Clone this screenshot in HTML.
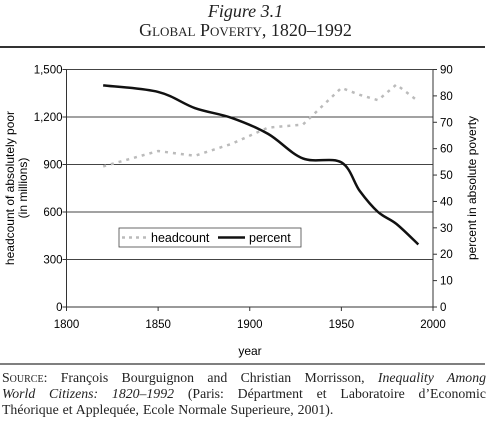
<!DOCTYPE html>
<html><head><meta charset="utf-8"><style>
body{margin:0;background:#fff;width:491px;height:425px;overflow:hidden;position:relative;font-family:"Liberation Serif",serif}
.t{position:absolute;left:0;width:491px;text-align:center;color:#222}
.src{position:absolute;left:2px;width:484px;font-size:13.8px;line-height:16px;color:#222;white-space:nowrap;word-spacing:0.5px}
.j{text-align:justify;text-align-last:justify}
.sc{font-variant:small-caps}
</style></head><body>
<div class="t" style="top:1px;font-size:18px;font-style:italic">Figure 3.1</div>
<div class="t" style="top:20px;font-size:18px;font-variant:small-caps">Global Poverty, 1820–1992</div>
<svg width="491" height="425" style="position:absolute;left:0;top:0" font-family="Liberation Sans, sans-serif" font-size="11.5">
<line x1="0" y1="47" x2="485" y2="47" stroke="#333" stroke-width="2"/>
<line x1="0" y1="364" x2="485" y2="364" stroke="#333" stroke-width="1.3"/>
<g id="grid"></g><g id="series"></g>
<text x="250" y="355" text-anchor="middle" font-size="12">year</text>
<text transform="translate(15,188) rotate(-90)" text-anchor="middle" font-size="12"><tspan x="0" dy="-1">headcount of absolutely poor</tspan><tspan x="0" dy="13">(in millions)</tspan></text>
<text transform="translate(476,188) rotate(-90)" text-anchor="middle" font-size="12">percent in absolute poverty</text>
<rect x="119" y="228" width="182" height="19" fill="#fff" stroke="#444" stroke-width="0.8"/>
<line x1="122" y1="237.5" x2="148" y2="237.5" stroke="#bbb" stroke-width="2.5" stroke-dasharray="3,4"/>
<text x="151" y="242" font-size="12.5">headcount</text>
<line x1="218" y1="237.5" x2="245" y2="237.5" stroke="#111" stroke-width="2.5"/>
<text x="249" y="242" font-size="12.5">percent</text>
</svg>
<div>
<div class="src j" style="top:370px"><span class="sc">Source:</span> François Bourguignon and Christian Morrisson, <i>Inequality Among</i></div>
<div class="src j" style="top:386px"><i>World Citizens: 1820–1992</i> (Paris: Départment et Laboratoire d’Economic</div>
<div class="src" style="top:402px">Théorique et Applequée, Ecole Normale Superieure, 2001).</div>
</div>
<script>
const years=[1820,1850,1870,1890,1910,1929,1950,1960,1970,1980,1992];
const headcount=[888,985,955,1030,1133,1152,1384,1340,1306,1405,1299];
const percent=[84.0,81.5,75.4,71.7,65.6,56.3,54.8,44.0,36.0,31.5,23.7];
const xTicks=[1800,1850,1900,1950,2000];
const leftTicks=[0,300,600,900,1200,1500];
const leftLabels=["0","300","600","900","1,200","1,500"];
const rightTicks=[0,10,20,30,40,50,60,70,80,90];
const NS="http://www.w3.org/2000/svg";
const X0=66.5,X1=433,Y0=307,Y1=69.5;
const xs=v=>X0+(v-1800)/200*(X1-X0);
const yl=v=>Y0-v/1500*(Y0-Y1);
const yr=v=>Y0-v/90*(Y0-Y1);
function mk(p,tag,a){const e=document.createElementNS(NS,tag);for(const k in a)e.setAttribute(k,a[k]);p.appendChild(e);return e;}
const g=document.getElementById('grid'),s=document.getElementById('series');
leftTicks.forEach((v,i)=>{const y=yl(v);
 if(v>0){const l=mk(g,'line',{x1:X0,y1:y,x2:X1,y2:y,stroke:'#444','stroke-width':0.9});
 
 }
 mk(g,'line',{x1:X0-4,y1:y,x2:X0,y2:y,stroke:'#333'});
 const t=mk(g,'text',{x:X0-4,y:y+4,'text-anchor':'end'});t.textContent=leftLabels[i];
 
 });
rightTicks.forEach(v=>{const y=yr(v);
 mk(g,'line',{x1:X1,y1:y,x2:X1+4,y2:y,stroke:'#333'});
 const t=mk(g,'text',{x:X1+7,y:y+4});t.textContent=v;
 
 });
xTicks.forEach(v=>{const x=xs(v);
 mk(g,'line',{x1:x,y1:Y0,x2:x,y2:Y0+4,stroke:'#333'});
 const t=mk(g,'text',{x:x,y:Y0+21,'text-anchor':'middle'});t.textContent=v;
 
 });
mk(g,'line',{x1:X0,y1:Y1,x2:X0,y2:Y0,stroke:'#333'});
mk(g,'line',{x1:X1,y1:Y1,x2:X1,y2:Y0,stroke:'#333'});
mk(g,'line',{x1:X0,y1:Y0,x2:X1,y2:Y0,stroke:'#333'});
function smooth(pts){let d=`M${pts[0][0]},${pts[0][1]}`;
 for(let i=0;i<pts.length-1;i++){const p0=pts[Math.max(0,i-1)],p1=pts[i],p2=pts[i+1],p3=pts[Math.min(pts.length-1,i+2)];
 d+=` C${p1[0]+(p2[0]-p0[0])/6},${p1[1]+(p2[1]-p0[1])/6} ${p2[0]-(p3[0]-p1[0])/6},${p2[1]-(p3[1]-p1[1])/6} ${p2[0]},${p2[1]}`;}return d;}
const hp=mk(s,'polyline',{points:years.map((y,i)=>xs(y)+','+yl(headcount[i])).join(' '),fill:'none',stroke:'#bbb','stroke-width':2.5,'stroke-dasharray':'3,5'});


const pp=mk(s,'path',{d:smooth(years.map((y,i)=>[xs(y),yr(percent[i])])),fill:'none',stroke:'#111','stroke-width':2.5});


</script>
</body></html>
